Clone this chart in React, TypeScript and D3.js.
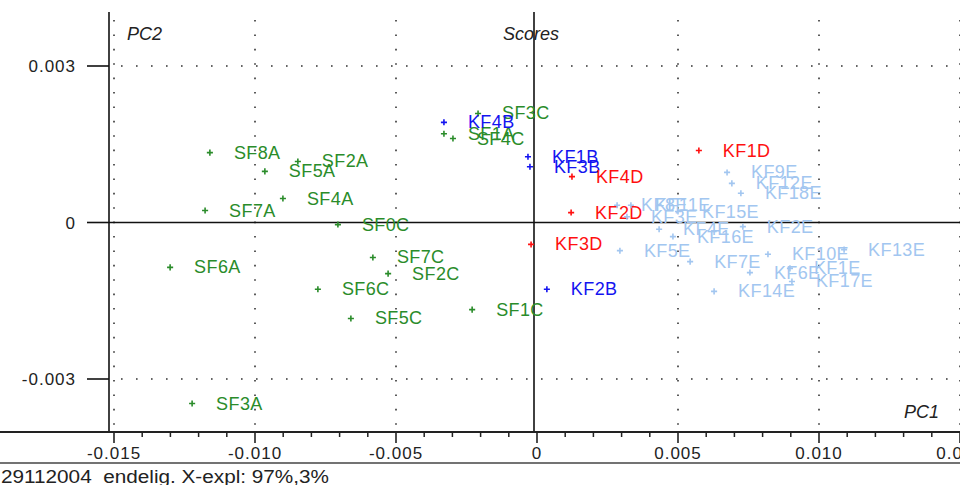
import React, { useMemo } from 'react';
import * as d3 from 'd3';

// PCA scores (PC1, PC2)
const sfNames = ['SF0C', 'SF1C', 'SF2C', 'SF3C', 'SF4C', 'SF5C', 'SF6C', 'SF7C',
  'SF1A', 'SF2A', 'SF3A', 'SF4A', 'SF5A', 'SF6A', 'SF7A', 'SF8A'];
const sfPC1 = [-0.00706, -0.0023, -0.00528, -0.00209, -0.00298, -0.0066, -0.00777, -0.00582,
  -0.0033, -0.00848, -0.01223, -0.00901, -0.00965, -0.01301, -0.01177, -0.0116];
const sfPC2 = [-0.00004, -0.00167, -0.00098, 0.00209, 0.00161, -0.00184, -0.00128, -0.00067,
  0.0017, 0.00117, -0.00347, 0.00046, 0.00098, -0.00086, 0.00023, 0.00134];

const kfbNames = ['KF1B', 'KF2B', 'KF3B', 'KF4B'];
const kfbPC1 = [-0.00032, 0.00035, -0.00025, -0.0033];
const kfbPC2 = [0.00126, -0.00128, 0.00107, 0.00192];

const kfdNames = ['KF1D', 'KF2D', 'KF3D', 'KF4D'];
const kfdPC1 = [0.00574, 0.00121, -0.00021, 0.00124];
const kfdPC2 = [0.00138, 0.00019, -0.00042, 0.00088];

const kfeNames = ['KF1E', 'KF2E', 'KF3E', 'KF4E', 'KF5E', 'KF6E', 'KF7E', 'KF8E', 'KF9E',
  'KF10E', 'KF11E', 'KF12E', 'KF13E', 'KF14E', 'KF15E', 'KF16E', 'KF17E', 'KF18E'];
const kfePC1 = [0.00897, 0.0073, 0.00319, 0.00433, 0.00294, 0.00755, 0.00543, 0.00284, 0.00674,
  0.00819, 0.00333, 0.00691, 0.01089, 0.00628, 0.005, 0.00482, 0.00904, 0.00723];
const kfePC2 = [-0.00088, -0.00008, 0.00011, -0.00013, -0.00054, -0.00096, -0.00075, 0.00033, 0.00096,
  -0.00061, 0.00033, 0.00075, -0.00052, -0.00132, 0.00021, -0.00027, -0.00113, 0.00056];

const xTicks = [-0.015, -0.01, -0.005, 0, 0.005, 0.01, 0.015];
const xTickLabels = ['-0.015', '-0.010', '-0.005', '0', '0.005', '0.010', '0.015'];
const yTicks = [-0.003, 0, 0.003];
const yTickLabels = ['-0.003', '0', '0.003'];
const footer = '29112004  endelig. X-expl: 97%,3%';

const groups = [
  { names: sfNames, pc1: sfPC1, pc2: sfPC2, color: '#2a8c2a' },
  { names: kfbNames, pc1: kfbPC1, pc2: kfbPC2, color: '#1414f0' },
  { names: kfdNames, pc1: kfdPC1, pc2: kfdPC2, color: '#ff1010' },
  { names: kfeNames, pc1: kfePC1, pc2: kfePC2, color: '#a2c6f0' },
];

const W = 960;
const H = 485;
const plot = { left: 109, top: 12, bottom: 432 };
const font = '"Liberation Sans", Arial, sans-serif';

export default function App() {
  const { x, y, minor, plus } = useMemo(() => {
    const x = d3.scaleLinear().domain([-0.015, 0.015]).range([114, 960]);
    const y = d3.scaleLinear().domain([-0.003, 0.003]).range([379, 66]);
    const minor = d3.range(-15, 16).filter(i => i % 5 !== 0).map(i => i / 1000);
    const plus = d3.symbol(d3.symbolPlus, 14)();
    return { x, y, minor, plus };
  }, []);

  const gridX = xTicks.filter(t => t !== 0);

  return (
    <svg width={W} height={H} style={{ position: 'absolute', left: 0, top: 0, fontFamily: font, background: '#fff' }}>
      {/* dotted grid */}
      {gridX.map(t => (
        <line key={`gx${t}`} x1={x(t)} x2={x(t)} y1={plot.top + 8} y2={plot.bottom} stroke="#333" strokeWidth={1.6} strokeDasharray="1.6,12.8" />
      ))}
      {yTicks.filter(t => t !== 0).map(t => (
        <line key={`gy${t}`} x1={plot.left + 12} x2={W} y1={y(t)} y2={y(t)} stroke="#333" strokeWidth={1.6} strokeDasharray="1.6,13.4" />
      ))}

      {/* zero lines */}
      <line x1={x(0) - 3} x2={x(0) - 3} y1={plot.top} y2={plot.bottom} stroke="#111" strokeWidth={1.6} />
      <line x1={plot.left} x2={W} y1={y(0)} y2={y(0)} stroke="#111" strokeWidth={1.6} />

      {/* left frame + y axis */}
      <line x1={plot.left} x2={plot.left} y1={plot.top} y2={plot.bottom} stroke="#111" strokeWidth={1.6} />
      {yTicks.map((t, i) => (
        <g key={`yt${t}`}>
          <line x1={87} x2={plot.left} y1={y(t)} y2={y(t)} stroke="#111" strokeWidth={1.6} />
          <text x={76} y={y(t) + 6} textAnchor="end" fontSize={17} letterSpacing={1} fill="#222">{yTickLabels[i]}</text>
        </g>
      ))}

      {/* bottom axis */}
      <line x1={0} x2={W} y1={plot.bottom} y2={plot.bottom} stroke="#222" strokeWidth={2.2} />
      {minor.map(t => (
        <line key={`mt${t}`} x1={x(t)} x2={x(t)} y1={plot.bottom} y2={plot.bottom + 5} stroke="#222" strokeWidth={1.5} />
      ))}
      {xTicks.map((t, i) => (
        <g key={`xt${t}`}>
          <line x1={x(t)} x2={x(t)} y1={plot.bottom} y2={plot.bottom + 11} stroke="#222" strokeWidth={1.6} />
          <text x={x(t)} y={plot.bottom + 27} textAnchor="middle" fontSize={17} letterSpacing={1} fill="#222">{xTickLabels[i]}</text>
        </g>
      ))}

      {/* footer */}
      <line x1={0} x2={W} y1={463} y2={463} stroke="#444" strokeWidth={1.6} />
      <text x={1} y={483} fontSize={18} fill="#222" textLength={328} lengthAdjust="spacingAndGlyphs" style={{ whiteSpace: 'pre' }}>{footer}</text>

      {/* titles */}
      <text x={127} y={40} fontSize={18} fontStyle="italic" fill="#222">PC2</text>
      <text x={503} y={40} fontSize={18} fontStyle="italic" fill="#222">Scores</text>
      <text x={904} y={418} fontSize={18} fontStyle="italic" fill="#222">PC1</text>

      {/* score points */}
      {groups.map((g, gi) => (
        <g key={gi}>
          {g.names.map((n, i) => (
            <g key={n} transform={`translate(${x(g.pc1[i])},${y(g.pc2[i])})`}>
              <path d={plus} fill="none" stroke={g.color} strokeWidth={1.6} />
              <text x={24} y={6} fontSize={18} letterSpacing={0.4} fill={g.color}>{n}</text>
            </g>
          ))}
        </g>
      ))}
    </svg>
  );
}
